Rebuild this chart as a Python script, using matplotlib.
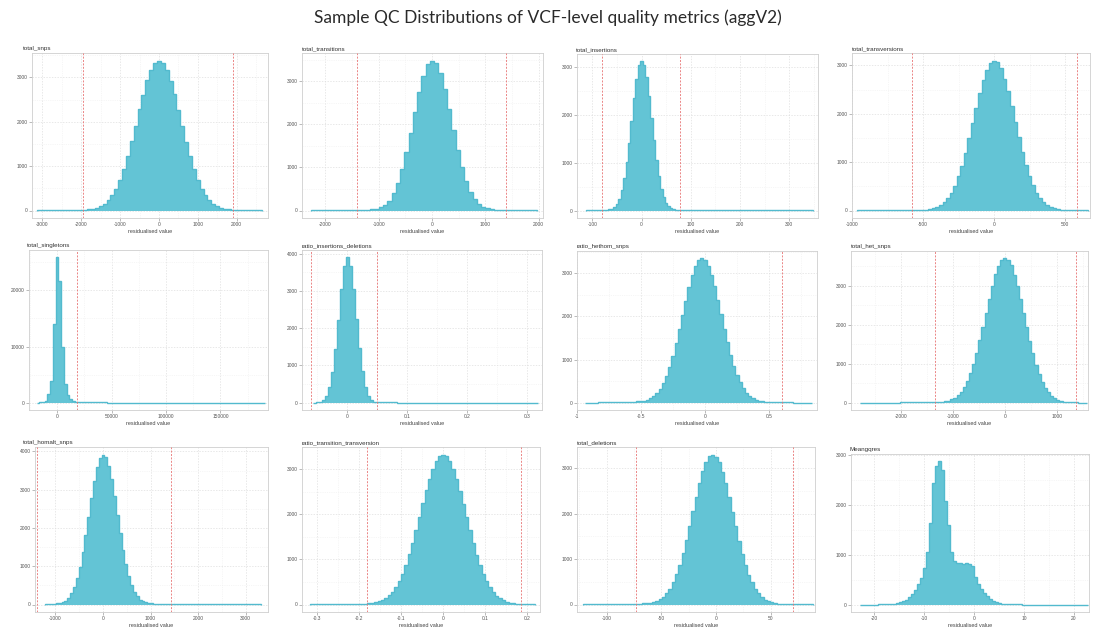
import numpy as np
import matplotlib
matplotlib.use("Agg")
import matplotlib.pyplot as plt
from matplotlib.ticker import AutoMinorLocator, FuncFormatter

plt.rcParams['font.family'] = ['Liberation Sans', 'DejaVu Sans']
plt.rcParams['axes.unicode_minus'] = False

FIG_TITLE = "Sample QC Distributions of VCF-level quality metrics (aggV2)"
X_LABEL = "residualised value"

# each metric: first bin edge, bin width, count per bin, red cut-off lines
snps_lo, snps_w = -3150, 100
snps_counts = [6, 7, 8, 8, 9, 10, 10, 11, 12, 13, 14, 16, 18,
               24, 38, 60, 96, 150, 232, 342, 495, 690, 935, 1225, 1555, 1910, 2280, 2610, 2940, 3160, 3320,
               3380,
               3330, 3165, 2920, 2625, 2260, 1915, 1540, 1225, 925, 690, 488, 345, 232, 150, 98, 62, 40, 27,
               20, 16, 13, 11, 9, 8, 7, 6]
snps_cuts = [-1960, 1900]

ts_lo, ts_w = -2280, 80
ts_counts = [5, 5, 6, 6, 7, 7, 8, 8, 9, 10, 11, 12, 14, 17,
             24, 38, 70, 130, 232, 400, 640, 955, 1350, 1800, 2280, 2740, 3120, 3400,
             3480,
             3420, 3190, 2810, 2350, 1860, 1400, 1000, 680, 440, 270, 160, 92, 52, 30, 20, 15, 12, 10, 8, 7,
             6, 5, 5, 4]
ts_cuts = [-1400, 1380]

ins_lo, ins_w = -112.5, 5
ins_counts = [3, 3, 4, 4, 5, 6, 8, 11, 16,
              22, 40, 75, 140, 250, 425, 680, 1010, 1420, 1880, 2350, 2760, 3040,
              3120,
              3050, 2790, 2390, 1935, 1470, 1060, 715, 455, 275, 160, 90, 50, 30, 20, 15, 12,
              10, 9, 9, 8, 8, 7, 7, 6, 6, 6, 5, 5, 5, 5, 4, 4, 4, 4, 4,
              3, 3, 3, 3, 3, 3, 3, 3, 3, 3,
              2, 2, 2, 2, 2, 2, 2, 2, 2, 2, 2, 2, 2, 2, 2, 2, 2, 2, 2, 2, 2, 2, 2, 2]
ins_cuts = [-80, 78]

tv_lo, tv_w = -962.5, 25
tv_counts = [4, 4, 4, 5, 5, 5, 5, 6, 6, 6, 7, 7, 8, 8, 9, 10, 11, 13, 15, 19,
             28, 44, 72, 112, 172, 255, 370, 515, 705, 930, 1195, 1490, 1805, 2125, 2430, 2700, 2910, 3040,
             3100,
             3065, 2935, 2725, 2460, 2150, 1830, 1510, 1210, 940, 710, 520, 370, 255, 170, 110, 70, 44, 28,
             19, 14, 11, 9, 7, 6, 5, 4]
tv_cuts = [-580, 582]

sing_lo, sing_w = -18750, 2500
sing_counts = [30, 45, 80,
               300, 1500, 3800, 14000, 25900, 21600, 10000, 3300, 1300, 600, 300, 180, 120, 90,
               75, 70, 65, 60, 56, 52, 48, 45, 42, 40, 38, 36, 34, 32, 30, 29, 28, 27, 26, 25,
               24, 23, 22, 21, 20, 20, 19, 19, 18, 18, 17, 17, 16, 16, 15, 15, 15, 14, 14, 14,
               13, 13, 13, 12, 12, 12, 12, 11, 11, 11, 11, 10, 10, 10, 10, 10, 9, 9, 9, 9,
               9, 8, 8, 8, 8, 8, 8]
sing_cuts = [18300]

indel_lo, indel_w = -0.0575, 0.005
indel_counts = [5, 8, 15,
                70, 185, 420, 830, 1440, 2230, 3040, 3660,
                3900,
                3670, 3050, 2240, 1460, 840, 425, 190, 78, 30, 15,
                10, 9, 8, 8, 7, 7, 6, 6, 6, 5, 5, 5, 5, 5, 4, 4, 4, 4, 4, 4, 4,
                3, 3, 3, 3, 3, 3, 3, 3, 3, 3, 3, 3, 3, 3, 3,
                2, 2, 2, 2, 2, 2, 2, 2, 2, 2, 2, 2, 2, 2, 2, 2, 2]
indel_cuts = [-0.0605, 0.0495]

hethom_lo, hethom_w = -0.9375, 0.025
hethom_counts = [5, 5, 6, 6, 7, 7, 8, 9, 10, 11, 12, 14, 16, 18, 21, 25, 30, 38,
                 45, 65, 100, 150, 225, 322, 455, 625, 835, 1090, 1380, 1700, 2035, 2370, 2685, 2955, 3170, 3300,
                 3350,
                 3310, 3175, 2965, 2695, 2385, 2050, 1715, 1400, 1110, 855, 645, 472, 338, 236, 162, 110, 75,
                 52, 38, 28, 22, 17, 14, 12, 10, 9, 8, 7, 6, 5, 5, 4, 4, 4]
hethom_cuts = [0.60]

het_lo, het_w = -2790, 60
het_counts = [4, 4, 4, 5, 5, 5, 5, 6, 6, 6, 7, 7, 7, 8, 8, 9, 9, 10, 11, 12, 13, 14, 16, 18, 21, 25, 30, 38,
              55, 85, 130, 195, 285, 405, 565, 760, 1000, 1285, 1600, 1950, 2310, 2670, 3010, 3295, 3520, 3660,
              3710,
              3665, 3525, 3290, 3000, 2660, 2300, 1935, 1585, 1265, 980, 740, 540, 385, 265, 178, 115, 72,
              45, 30, 20, 14, 10, 8, 6, 5, 4]
het_cuts = [-1350, 1370]

hom_lo, hom_w = -1230, 60
hom_counts = [6, 8, 12, 20, 35,
              28, 55, 100, 175, 290, 460, 690, 990, 1365, 1805, 2285, 2775, 3230, 3600, 3840,
              3920,
              3850, 3620, 3270, 2830, 2350, 1870, 1430, 1050, 745, 505, 330, 210, 130, 82, 55, 40, 32,
              26, 22, 19, 17, 15, 14,
              13, 12, 12, 11, 11, 10, 10, 9, 9, 9, 8, 8, 8, 7, 7, 7, 6, 6, 6, 6, 5, 5, 5, 5, 5,
              4, 4, 4, 4, 4, 4, 4]
hom_cuts = [-1390, 1430]

titv_lo, titv_w = -0.316, 0.008
titv_counts = [3, 3, 4, 4, 4, 5, 5, 6, 6, 7, 8, 9, 10, 12, 14, 17, 22, 28,
               35, 48, 68, 98, 140, 200, 282, 385, 522, 685, 880, 1110, 1365, 1645, 1940, 2240, 2525, 2785,
               3010, 3180, 3285,
               3320,
               3280, 3175, 3005, 2780, 2520, 2235, 1935, 1640, 1360, 1105, 875, 680, 518, 383, 280, 198,
               138, 94, 63, 42, 29, 20, 14, 10, 7, 5, 4]
titv_cuts = [-0.181, 0.186]

del_lo, del_w = -121.5, 3
del_counts = [3, 3, 3, 4, 4, 4, 5, 5, 6, 6, 7, 8, 9, 10, 12, 14, 17, 21, 26, 33,
              42, 55, 75, 112, 168, 248, 352, 490, 662, 878, 1128, 1410, 1725, 2048, 2368, 2668, 2928,
              3130, 3258, 3300,
              3255,
              3125, 2925, 2665, 2365, 2045, 1720, 1405, 1122, 872, 658, 486, 350, 245, 166, 110, 72, 47,
              30, 20, 14, 10, 8, 6, 5, 4, 4, 3, 3, 3]
del_cuts = [-73, 70.5]

gq_lo, gq_w = -22.8, 0.6
gq_counts = [3, 3, 4, 4, 5, 6, 8, 10, 13, 16,
             20, 25, 35, 50, 70, 100, 150, 215, 300, 410, 540, 740, 1050, 1650, 2450, 2790,
             2880,
             2700, 2080, 1600, 1050, 880, 840, 830, 825, 830, 815, 780, 560, 420, 310, 230, 170, 120,
             80, 55, 38, 26, 18, 13,
             10, 9, 8, 7, 6, 6, 5, 5, 4, 4, 4, 3, 3, 3, 3, 2, 2, 2, 2, 2, 2, 2, 2, 2, 2, 2]
gq_cuts = []

titles = ["total_snps", "total_transitions", "total_insertions", "total_transversions",
          "total_singletons", "ratio_insertions_deletions", "ratio_hethom_snps", "total_het_snps",
          "total_homalt_snps", "ratio_transition_transversion", "total_deletions", "Meangqres"]

series = [(snps_lo, snps_w, snps_counts, snps_cuts),
          (ts_lo, ts_w, ts_counts, ts_cuts),
          (ins_lo, ins_w, ins_counts, ins_cuts),
          (tv_lo, tv_w, tv_counts, tv_cuts),
          (sing_lo, sing_w, sing_counts, sing_cuts),
          (indel_lo, indel_w, indel_counts, indel_cuts),
          (hethom_lo, hethom_w, hethom_counts, hethom_cuts),
          (het_lo, het_w, het_counts, het_cuts),
          (hom_lo, hom_w, hom_counts, hom_cuts),
          (titv_lo, titv_w, titv_counts, titv_cuts),
          (del_lo, del_w, del_counts, del_cuts),
          (gq_lo, gq_w, gq_counts, gq_cuts)]

x_ticks = [[-3000, -2000, -1000, 0, 1000, 2000],
           [-2000, -1000, 0, 1000, 2000],
           [-100, 0, 100, 200, 300],
           [-1000, -500, 0, 500],
           [0, 50000, 100000, 150000],
           [0, 0.1, 0.2, 0.3],
           [-1.0, -0.5, 0, 0.5],
           [-2000, -1000, 0, 1000],
           [-1000, 0, 1000, 2000, 3000],
           [-0.3, -0.2, -0.1, 0, 0.1, 0.2],
           [-100, -50, 0, 50],
           [-20, -10, 0, 10, 20]]
y_ticks = [[0, 1000, 2000, 3000]] * 4 + \
          [[0, 10000, 20000], [0, 1000, 2000, 3000, 4000], [0, 1000, 2000, 3000], [0, 1000, 2000, 3000],
           [0, 1000, 2000, 3000, 4000], [0, 1000, 2000, 3000], [0, 1000, 2000, 3000], [0, 1000, 2000, 3000]]

# layout (pixels): panel box left, top, right, bottom, title x, and x limits
W, H = 1096, 627
boxes = [(32, 53, 268, 218), (302, 53, 543, 218), (577, 54, 818, 218), (852, 53, 1090, 218),
         (29, 250, 268, 410), (302, 250, 542, 410), (577, 251, 817, 410), (851, 251, 1088, 410),
         (35, 447, 268, 612), (302, 447, 540, 612), (577, 447, 815, 612), (851, 454, 1089, 612)]
title_x = [23, 302, 576, 852, 27, 302, 577, 851, 23, 302, 577, 849]
xlims = [(-3270, 2810), (-2440, 2080), (-131, 358), (-1000, 676),
         (-25700, 193600), (-0.075, 0.325), (-1.0, 0.875), (-2960, 1600),
         (-1430, 3470), (-0.336, 0.231), (-127, 90.5), (-24.6, 23)]

FILL = "#63c4d5"
EDGE = "#52bace"
CUT = "#e76f6f"
GRID = "#dedede"

fig = plt.figure(figsize=(W / 100, H / 100), dpi=100)
fig.text(0.5, 1 - 18 / H, FIG_TITLE, ha="center", va="center", fontsize=12.5,
         family=["Lato", "DejaVu Sans"], color="#2a2a2a")

fmt = FuncFormatter(lambda v, p: f"{v:g}")

for i, (lo, w, counts, cuts) in enumerate(series):
    l, t, r, b = boxes[i]
    ax = fig.add_axes([l / W, 1 - b / H, (r - l) / W, (b - t) / H])
    edges = lo + w * np.arange(len(counts) + 1)
    ax.stairs(counts, edges, fill=True, color=FILL, lw=0, zorder=2)
    ax.stairs(counts, edges, color=EDGE, lw=1.0, zorder=3)
    for c in cuts:
        ax.axvline(c, color=CUT, lw=0.7, ls=(0, (2, 1.5)), alpha=0.85, zorder=4)
    top = max(counts)
    ax.set_ylim(-0.05 * top, 1.05 * top)
    ax.set_xlim(*xlims[i])
    ax.set_xticks(x_ticks[i])
    ax.set_yticks(y_ticks[i])
    ax.xaxis.set_major_formatter(fmt)
    ax.yaxis.set_major_formatter(fmt)
    ax.xaxis.set_minor_locator(AutoMinorLocator(2))
    ax.yaxis.set_minor_locator(AutoMinorLocator(2))
    ax.grid(which="major", color=GRID, lw=0.5, ls=(0, (2, 2)), zorder=0)
    ax.grid(which="minor", color="#efefef", lw=0.4, ls=(0, (2, 2)), zorder=0)
    ax.set_axisbelow(True)
    ax.tick_params(which="major", labelsize=3.5, length=2, width=0.4, pad=1,
                   color="#888888", labelcolor="#555555")
    ax.tick_params(which="minor", length=0)
    for s in ax.spines.values():
        s.set_color("#cfcfcf")
        s.set_linewidth(0.6)
    ax.set_xlabel(X_LABEL, fontsize=4, labelpad=1.5, color="#444444")
    fig.text(title_x[i] / W, 1 - (t - 2) / H, titles[i], ha="left", va="bottom",
             fontsize=4.5, color="#333333")

fig.savefig("out.png", dpi=100)
